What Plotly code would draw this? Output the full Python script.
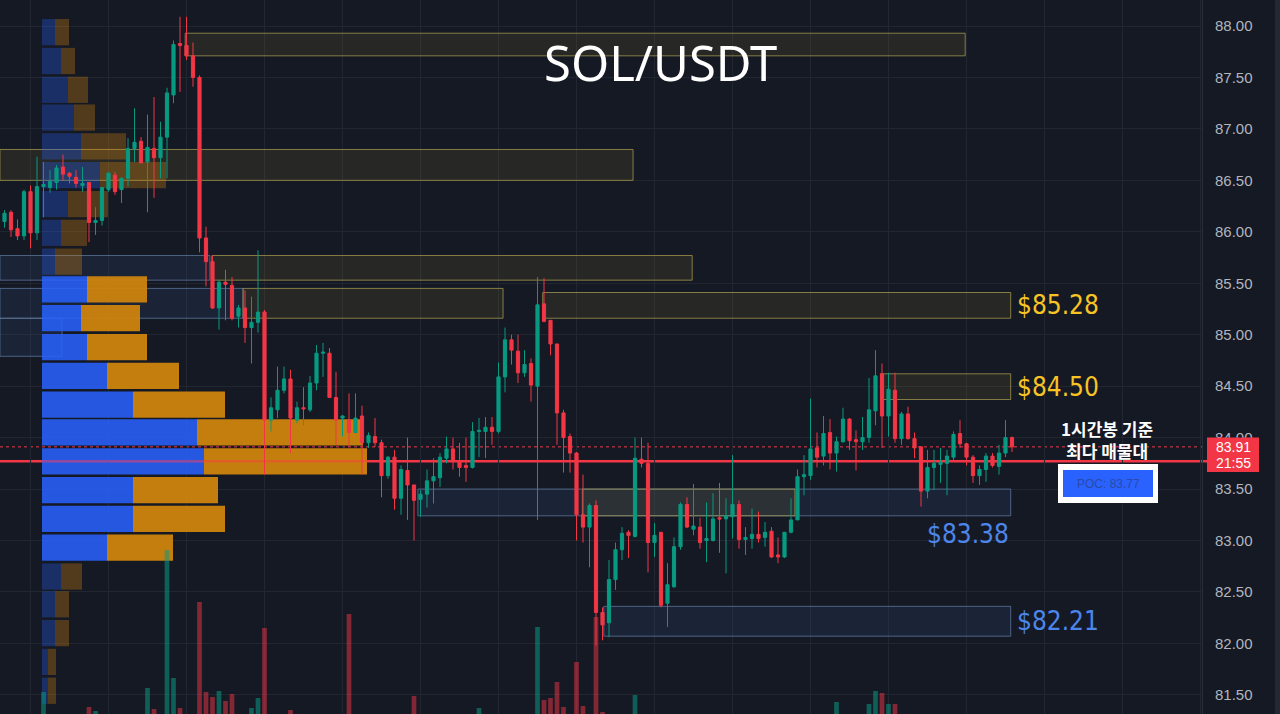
import plotly.graph_objects as go

# ---------------- data ----------------
open_ = [86.10, 86.19, 86.03, 85.96, 86.39, 85.99, 86.44, 86.43, 86.48, 86.63,
         86.57, 86.53, 86.45, 86.48, 86.09, 86.11, 86.41, 86.55, 86.41, 86.52,
         86.81, 86.88, 86.68, 86.81, 86.72, 86.92, 87.33, 87.83, 87.81, 87.71,
         87.50, 85.94, 85.71, 85.26, 85.51, 85.48, 85.18, 85.26, 85.07, 85.12,
         85.22, 84.17, 84.27, 84.46, 84.57, 84.17, 84.29, 84.27, 84.53, 84.82,
         84.82, 84.39, 84.19, 84.17, 84.05, 84.21, 83.95, 84.01, 83.95, 83.63,
         83.81, 83.41, 83.68, 83.54, 83.40, 83.45, 83.58, 83.61, 83.80, 83.89,
         83.77, 83.73, 83.71, 84.06, 84.06, 84.10, 84.06, 84.59, 84.95, 84.84,
         84.63, 84.72, 84.50, 85.30, 85.14, 84.91, 84.24, 84.01, 83.85, 83.25,
         83.13, 83.34, 82.30, 82.20, 82.62, 82.91, 83.08, 83.04, 83.79, 83.75,
         82.98, 83.08, 82.39, 82.55, 82.94, 83.35, 83.11, 83.13, 83.00, 83.00,
         83.22, 83.21, 83.23, 83.35, 83.01, 83.02, 83.06, 83.03, 83.09, 82.86,
         82.84, 83.08, 83.20, 83.62, 83.63, 83.90, 83.82, 84.05, 83.85, 83.96,
         84.18, 83.98, 83.96, 84.00, 84.26, 84.62, 84.21, 84.46, 83.99, 84.23,
         83.99, 83.91, 83.48, 83.71, 83.74, 83.75, 83.81, 84.04, 83.94, 83.81,
         83.63, 83.69, 83.82, 83.72, 83.85, 84.00]
high_ = [86.21, 86.21, 86.12, 86.41, 86.45, 86.73, 86.68, 86.60, 86.65, 86.75,
         86.58, 86.60, 86.63, 86.48, 86.24, 86.43, 86.58, 86.58, 86.53, 86.91,
         87.20, 86.92, 87.14, 87.31, 87.07, 87.40, 87.86, 88.09, 88.09, 87.84,
         87.52, 86.05, 85.77, 85.53, 85.63, 85.56, 85.29, 85.43, 85.37, 85.82,
         85.24, 84.39, 84.69, 84.69, 84.66, 84.35, 84.49, 84.60, 84.90, 84.92,
         84.87, 84.64, 84.22, 84.43, 84.43, 84.31, 84.05, 84.19, 83.98, 83.82,
         83.88, 83.73, 84.00, 83.54, 83.49, 83.69, 83.80, 83.85, 84.01, 84.00,
         83.95, 84.00, 84.15, 84.19, 84.20, 84.20, 84.73, 85.07, 85.00, 85.00,
         84.85, 84.77, 85.56, 85.55, 85.14, 84.91, 84.27, 84.04, 83.86, 83.64,
         83.36, 83.39, 82.35, 82.81, 82.98, 83.13, 83.10, 84.00, 84.00, 83.95,
         83.17, 83.08, 82.78, 83.03, 83.37, 83.42, 83.55, 83.22, 83.37, 83.46,
         83.56, 83.41, 83.83, 83.39, 83.13, 83.31, 83.28, 83.18, 83.13, 83.03,
         83.08, 83.41, 83.69, 83.83, 84.38, 84.05, 84.21, 84.18, 84.01, 84.29,
         84.19, 84.07, 84.20, 84.58, 84.85, 84.72, 84.63, 84.63, 84.25, 84.30,
         84.05, 83.91, 83.88, 83.88, 83.90, 83.88, 84.06, 84.17, 83.95, 83.83,
         83.73, 83.85, 83.85, 83.93, 84.17, 84.01]
low_ = [86.04, 85.95, 85.92, 85.92, 85.84, 85.92, 86.14, 86.38, 86.41, 86.50,
        86.47, 86.43, 86.39, 85.90, 85.97, 86.06, 86.39, 86.36, 86.28, 86.44,
        86.68, 86.67, 86.19, 86.33, 86.52, 86.52, 87.25, 87.36, 87.67, 87.41,
        85.80, 85.47, 85.25, 85.05, 85.14, 85.14, 85.07, 84.92, 84.72, 85.02,
        83.64, 84.06, 84.19, 84.43, 83.85, 84.14, 84.12, 84.25, 84.46, 84.59,
        84.39, 83.93, 84.01, 83.91, 84.04, 83.64, 83.90, 83.91, 83.42, 83.60,
        83.30, 83.25, 83.20, 83.00, 83.23, 83.32, 83.36, 83.52, 83.75, 83.69,
        83.62, 83.57, 83.70, 83.81, 83.80, 83.93, 84.04, 84.44, 84.71, 84.53,
        84.59, 84.35, 83.20, 85.12, 84.80, 83.93, 83.66, 83.66, 83.00, 82.98,
        82.74, 81.98, 82.03, 82.06, 82.52, 82.81, 82.83, 83.03, 83.71, 82.69,
        82.84, 82.35, 82.16, 82.54, 82.91, 83.12, 83.05, 82.92, 82.79, 82.99,
        82.88, 82.68, 83.02, 82.92, 82.86, 82.92, 82.98, 82.94, 82.83, 82.78,
        82.83, 83.07, 83.20, 83.44, 83.59, 83.71, 83.73, 83.69, 83.67, 83.95,
        83.88, 83.68, 83.88, 83.95, 84.12, 83.90, 84.01, 83.95, 83.93, 83.98,
        83.80, 83.33, 83.41, 83.49, 83.56, 83.44, 83.78, 83.90, 83.73, 83.56,
        83.54, 83.57, 83.71, 83.64, 83.81, 83.86]
close_ = [86.18, 86.02, 85.96, 86.39, 85.99, 86.44, 86.46, 86.49, 86.62, 86.56,
          86.54, 86.47, 86.47, 86.09, 86.11, 86.43, 86.57, 86.39, 86.52, 86.81,
          86.87, 86.67, 86.82, 86.72, 86.92, 87.35, 87.82, 87.81, 87.71, 87.50,
          85.94, 85.71, 85.26, 85.51, 85.49, 85.16, 85.26, 85.07, 85.12, 85.22,
          84.17, 84.29, 84.46, 84.57, 84.19, 84.29, 84.28, 84.53, 84.82, 84.83,
          84.39, 84.17, 84.21, 84.05, 84.19, 83.95, 84.02, 83.95, 83.63, 83.81,
          83.41, 83.69, 83.54, 83.39, 83.45, 83.58, 83.62, 83.81, 83.89, 83.78,
          83.71, 83.71, 84.06, 84.07, 84.10, 84.06, 84.59, 84.95, 84.85, 84.63,
          84.71, 84.51, 85.29, 85.13, 84.91, 84.24, 84.00, 83.85, 83.25, 83.13,
          83.34, 82.30, 82.18, 82.62, 82.91, 83.07, 83.05, 83.80, 83.75, 82.98,
          83.05, 82.37, 82.57, 82.94, 83.35, 83.13, 83.14, 82.98, 83.02, 83.21,
          83.21, 83.24, 83.35, 83.01, 83.03, 83.06, 83.02, 83.08, 82.84, 82.84,
          83.08, 83.20, 83.62, 83.64, 83.89, 83.81, 84.04, 83.85, 83.96, 84.18,
          83.97, 83.96, 84.00, 84.27, 84.60, 84.21, 84.47, 83.99, 84.23, 83.99,
          83.90, 83.48, 83.71, 83.75, 83.76, 83.82, 84.03, 83.94, 83.81, 83.63,
          83.69, 83.82, 83.73, 83.85, 84.00, 83.91]

# visible volume bars (candle number, volume in K)
vol_candle = [7, 14, 15, 23, 24, 26, 27, 28, 31, 32, 33, 34, 35, 36, 39, 40, 41, 45,
              54, 64, 74, 83, 84, 85, 86, 87, 89, 90, 92, 93, 98, 129, 134, 135,
              136, 137, 138]
vol_value = [22, 7, 3, 26, 5, 164, 36, 6, 112, 22, 17, 23, 13, 20, 6, 16, 86, 4,
             100, 18, 6, 87, 14, 16, 32, 7, 52, 8, 97, 2, 19, 12, 10, 23,
             21, 10, 10]

# volume profile rows (price of row centre, buy volume, sell volume)
prof_price = [81.54, 81.82, 82.10, 82.38, 82.65, 82.93, 83.21, 83.49, 83.77, 84.05,
              84.32, 84.60, 84.88, 85.16, 85.44, 85.71, 85.99, 86.27, 86.55, 86.83,
              87.11, 87.38, 87.66, 87.94]
prof_buy = [6, 6, 13, 13, 19, 65, 91, 91, 162, 155, 91, 65, 45, 39, 45, 13, 19, 26,
            58, 39, 32, 26, 19, 13]
prof_sell = [8, 8, 14, 14, 21, 66, 92, 85, 163, 166, 92, 72, 60, 59, 60, 27, 26, 40,
             66, 45, 21, 20, 14, 14]
value_area_rows = [5, 14]   # first and last row inside the value area

poc = 83.77
last_close = close_[-1]
countdown = "21:55"

# drawn zones: (start bar, end bar, low price, high price)
supply_zones = [(27.8, 147.8, 87.71, 87.93), (-0.7, 96.7, 86.50, 86.80),
                (31.9, 105.8, 85.53, 85.77), (36.7, 76.7, 85.16, 85.45),
                (82.8, 154.8, 85.16, 85.41), (134.8, 154.8, 84.37, 84.62),
                (88.9, 121.6, 83.24, 83.50)]
demand_zones = [(63.6, 154.8, 83.24, 83.50), (92.2, 154.8, 82.07, 82.36),
                (-0.7, 31.6, 85.53, 85.77), (-0.7, 36.7, 85.16, 85.45),
                (-0.7, 8.85, 84.79, 85.16)]
zone_labels = [("$85.28", 85.285, "supply", "right"), ("$84.50", 84.495, "supply", "right"),
               ("$83.38", 83.24, "demand", "below"), ("$82.21", 82.215, "demand", "right")]

# ---------------- layout constants ----------------
W, H = 1280, 714
PLOT_W = 1202
X_RANGE = [-0.692, 184.23]
Y_RANGE = [81.3139, 88.2527]
px_x = PLOT_W / (X_RANGE[1] - X_RANGE[0])          # pixels per bar
price_per_px = (Y_RANGE[1] - Y_RANGE[0]) / H

BG = "#151924"
GREEN = "#089981"
RED = "#f23645"
YEL = "#f7c423"
BLUE_TXT = "#4c86ea"

fig = go.Figure()

# volume profile (left)
prof_origin = X_RANGE[0] + 42 / px_x
buy_cols, sell_cols = [], []
for k in range(len(prof_price)):
    bright = value_area_rows[0] <= k <= value_area_rows[1]
    buy_cols.append("rgba(41,98,255,0.86)" if bright else "rgba(41,98,255,0.30)")
    sell_cols.append("rgba(206,132,14,0.95)" if bright else "rgba(206,132,14,0.33)")
fig.add_bar(orientation="h", y=prof_price, x=[b / px_x for b in prof_buy],
            base=prof_origin, width=0.255, marker=dict(color=buy_cols, line_width=0),
            hoverinfo="skip")
fig.add_bar(orientation="h", y=prof_price, x=[s / px_x for s in prof_sell],
            base=[prof_origin + b / px_x for b in prof_buy], width=0.255,
            marker=dict(color=sell_cols, line_width=0), hoverinfo="skip")

# volume bars
vx = [c - 1 for c in vol_candle]
vcol = ["rgba(8,153,129,0.55)" if close_[i] >= open_[i] else "rgba(242,54,69,0.5)" for i in vx]
fig.add_bar(x=vx, y=[v * price_per_px for v in vol_value], base=Y_RANGE[0], width=0.72,
            marker=dict(color=vcol, line_width=0), hoverinfo="skip")

# candles
fig.add_candlestick(x=list(range(len(close_))), open=open_, high=high_, low=low_, close=close_,
                    increasing=dict(line=dict(color=GREEN, width=1), fillcolor=GREEN),
                    decreasing=dict(line=dict(color=RED, width=1), fillcolor=RED),
                    whiskerwidth=0, hoverinfo="skip")

shapes = []
for x0, x1, lo, hi in demand_zones:
    shapes.append(dict(type="rect", xref="x", yref="y", x0=x0, x1=x1, y0=lo, y1=hi,
                       line=dict(color="rgba(96,122,160,0.75)", width=1),
                       fillcolor="rgba(50,78,120,0.22)", layer="between"))
for x0, x1, lo, hi in supply_zones:
    shapes.append(dict(type="rect", xref="x", yref="y", x0=x0, x1=x1, y0=lo, y1=hi,
                       line=dict(color="rgba(168,156,80,0.75)", width=1),
                       fillcolor="rgba(120,112,50,0.18)", layer="between"))
# POC line and last price line
shapes.append(dict(type="line", xref="paper", yref="y", x0=0, x1=1.005, y0=poc, y1=poc,
                   line=dict(color=RED, width=2.5), layer="between"))
shapes.append(dict(type="line", xref="x", yref="y", x0=prof_origin,
                   x1=prof_origin + (prof_buy[8] + prof_sell[8]) / px_x, y0=poc, y1=poc,
                   line=dict(color="rgba(242,54,69,0.45)", width=2.5), layer="above"))
shapes.append(dict(type="line", xref="paper", yref="y", x0=0, x1=1.0, y0=last_close, y1=last_close,
                   line=dict(color=RED, width=1, dash="dot"), layer="between"))
# price tag
shapes.append(dict(type="rect", xref="paper", yref="y", x0=1207 / PLOT_W, x1=1259 / PLOT_W,
                   y0=last_close - 0.244, y1=last_close + 0.09, fillcolor=RED,
                   line_width=0, layer="above"))
# POC callout box
shapes.append(dict(type="rect", xref="paper", yref="y", x0=1058 / PLOT_W, x1=1158 / PLOT_W,
                   y0=poc - 0.406, y1=poc - 0.027, fillcolor="white", line_width=0, layer="above"))
shapes.append(dict(type="rect", xref="paper", yref="y", x0=1063 / PLOT_W, x1=1153 / PLOT_W,
                   y0=poc - 0.347, y1=poc - 0.085, fillcolor="#2962ff", line_width=0, layer="above"))
# right border strip
shapes.append(dict(type="rect", xref="paper", yref="paper", x0=1275 / PLOT_W, x1=1280 / PLOT_W,
                   y0=0, y1=1, fillcolor="#242833", line_width=0, layer="above"))

ann = []
ann.append(dict(text="SOL/USDT", xref="paper", yref="paper", x=660 / PLOT_W, y=(H - 62) / H,
                showarrow=False, xanchor="center", yanchor="middle",
                font=dict(family="Noto Sans", size=49, color="white")))
label_font = "DejaVu Sans Condensed, Liberation Sans Narrow, Roboto Condensed, Roboto"
for txt, y, kind, pos in zone_labels:
    col = YEL if kind == "supply" else BLUE_TXT
    if pos == "right":
        ann.append(dict(text=txt, xref="x", yref="y", x=154.8, y=y, xanchor="left",
                        yanchor="middle", xshift=4, showarrow=False,
                        font=dict(family=label_font, size=26, color=col)))
    else:
        ann.append(dict(text=txt, xref="x", yref="y", x=154.8, y=y, xanchor="right",
                        yanchor="top", yshift=-1, showarrow=False,
                        font=dict(family=label_font, size=26, color=col)))
ann.append(dict(text="<b>1시간봉 기준<br>최다 매물대</b>", xref="paper", yref="y",
                x=1107 / PLOT_W, y=poc + 0.21, showarrow=False, xanchor="center",
                yanchor="middle", align="center",
                font=dict(family="Noto Sans CJK KR", size=17, color="white")))
ann.append(dict(text=f"POC: {poc:.2f}", xref="paper", yref="y", x=1108 / PLOT_W, y=poc - 0.22,
                showarrow=False, xanchor="center", yanchor="middle",
                font=dict(family="Liberation Sans", size=12, color="#2a4aa8")))
ann.append(dict(text=f"{last_close:.2f}", xref="paper", yref="y", x=1233 / PLOT_W, y=last_close,
                showarrow=False, xanchor="center", yanchor="middle",
                font=dict(family="Liberation Sans", size=14, color="white")))
ann.append(dict(text=countdown, xref="paper", yref="y", x=1233 / PLOT_W, y=last_close - 0.155,
                showarrow=False, xanchor="center", yanchor="middle",
                font=dict(family="Liberation Sans", size=14, color="white")))

fig.update_layout(
    width=W, height=H, margin=dict(l=0, r=W - PLOT_W, t=0, b=0),
    paper_bgcolor=BG, plot_bgcolor=BG, showlegend=False, barmode="overlay",
    shapes=shapes, annotations=ann, hovermode=False,
    xaxis=dict(range=X_RANGE, rangeslider=dict(visible=False), showticklabels=False,
               showgrid=True, gridcolor="#222631", gridwidth=1, tick0=4, dtick=12,
               zeroline=False, showline=False, fixedrange=True),
    yaxis=dict(range=Y_RANGE, side="right", dtick=0.5, tick0=0, tickformat=".2f",
               showgrid=True, gridcolor="#222631", gridwidth=1, zeroline=False,
               ticks="", ticklabelstandoff=9, showline=True, linecolor="#2a2e39",
               tickfont=dict(family="Liberation Sans", size=15, color="#b2b5be"),
               fixedrange=True),
)

fig.write_html("out.html", config={"displayModeBar": False},
               post_script="document.body.style.margin='0';document.body.style.background='" + BG + "';")
